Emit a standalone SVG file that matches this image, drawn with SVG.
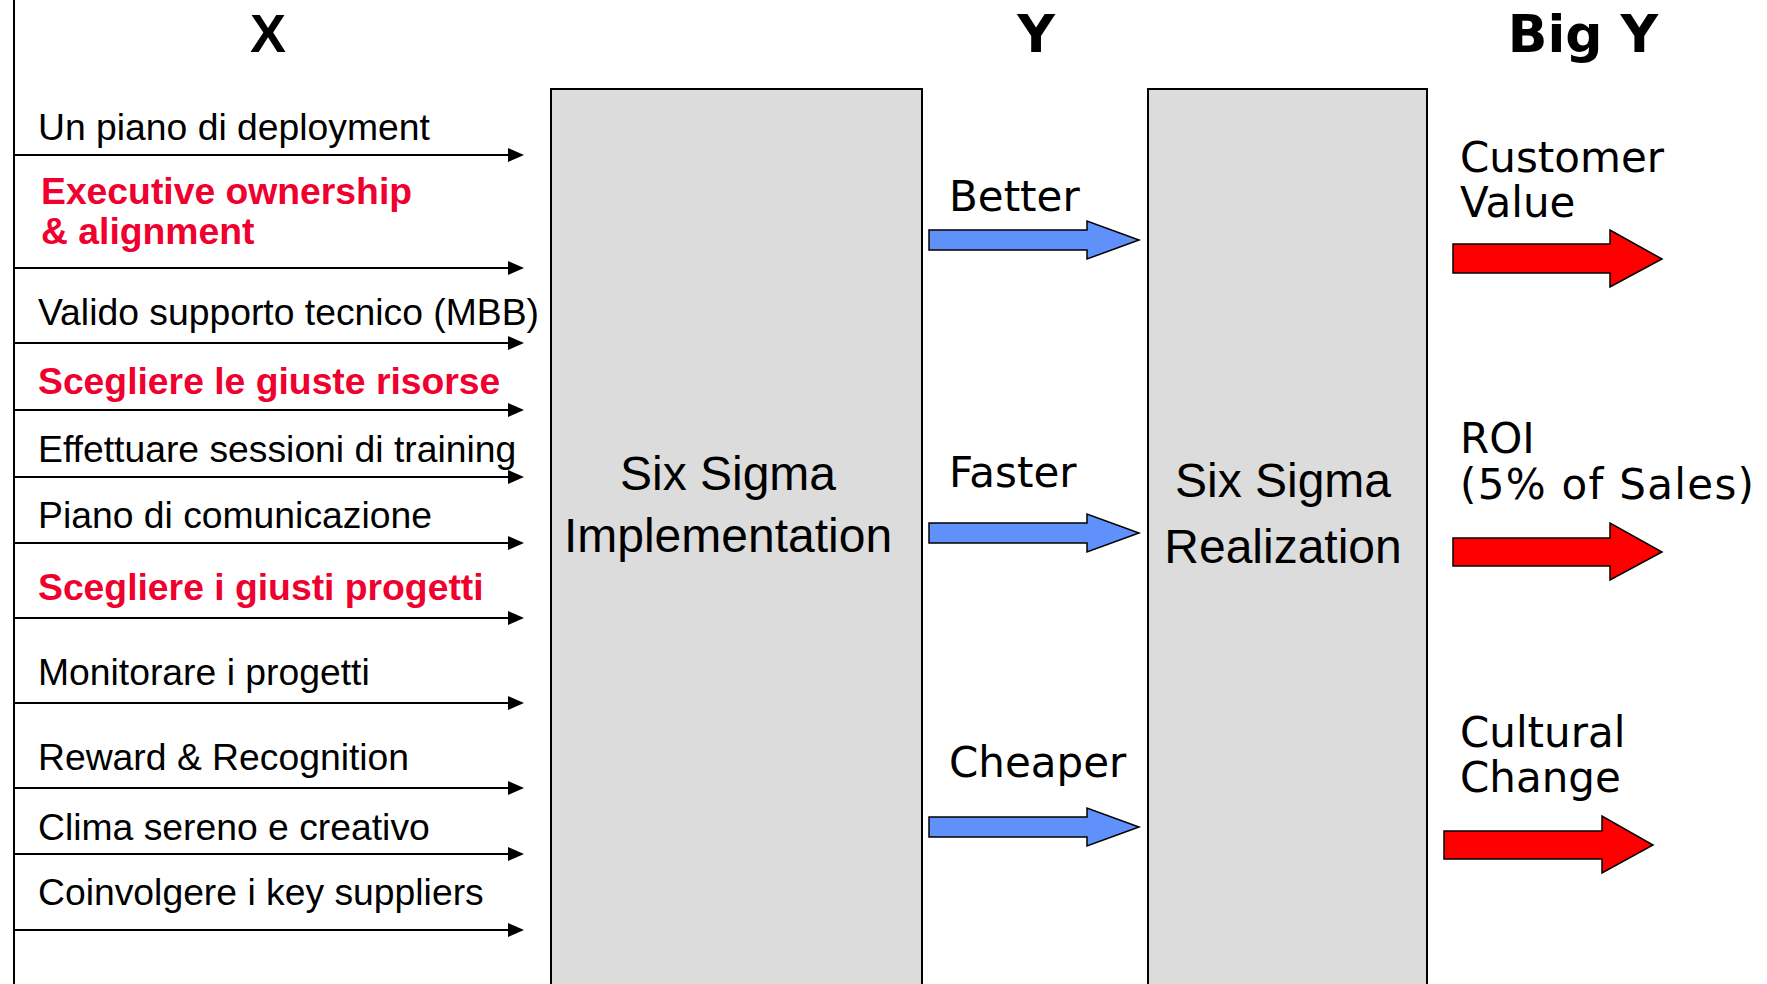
<svg xmlns="http://www.w3.org/2000/svg" width="1767" height="984" viewBox="0 0 1767 984">
<defs>
<marker id="ah" markerUnits="userSpaceOnUse" markerWidth="16" markerHeight="14" refX="0" refY="7" orient="auto" overflow="visible">
<path d="M0,0 L16,7 L0,14 Z" fill="#000"/>
</marker>
<style>
.lbl{font-family:"Liberation Sans",Arial,sans-serif;font-size:37.3px;fill:#000}
.red{font-family:"Liberation Sans",Arial,sans-serif;font-size:37.3px;font-weight:bold;fill:#f0002e}
.box{fill:#dcdcdc;stroke:#000;stroke-width:2}
.boxt{font-family:"Liberation Sans",Arial,sans-serif;font-size:48px;fill:#000;text-anchor:middle}
.dv{font-family:"DejaVu Sans",Verdana,sans-serif;font-size:42px;fill:#000}
.dvr{font-family:"DejaVu Sans",Verdana,sans-serif;font-size:42px;fill:#000}
.conn line{stroke:#000;stroke-width:2;marker-end:url(#ah)}
.blue{fill:#6090fa;stroke:#000;stroke-width:1.5}
.redarr{fill:#ff0000;stroke:#000;stroke-width:1.5}
</style>
</defs>
<rect width="1767" height="984" fill="#fff"/>
<line x1="14" y1="0" x2="14" y2="984" stroke="#000" stroke-width="2"/>
<g id="titles">
<text x="268" y="52" font-family="Liberation Sans, Arial, sans-serif" font-weight="bold" font-size="54" text-anchor="middle">X</text>
<text x="1036" y="52" font-family="DejaVu Sans, Verdana, sans-serif" font-weight="bold" font-size="52" text-anchor="middle">Y</text>
<text x="1583" y="52" font-family="DejaVu Sans, Verdana, sans-serif" font-weight="bold" font-size="52" text-anchor="middle">Big Y</text>
</g>
<g id="inputs">
<text class="lbl" x="38" y="140">Un piano di deployment</text>
<text class="red" x="41" y="204">Executive ownership</text>
<text class="red" x="41" y="244">&amp; alignment</text>
<text class="lbl" x="38" y="325">Valido supporto tecnico (MBB)</text>
<text class="red" x="38" y="394">Scegliere le giuste risorse</text>
<text class="lbl" x="38" y="462">Effettuare sessioni di training</text>
<text class="lbl" x="38" y="528">Piano di comunicazione</text>
<text class="red" x="38" y="600">Scegliere i giusti progetti</text>
<text class="lbl" x="38" y="685">Monitorare i progetti</text>
<text class="lbl" x="38" y="770">Reward &amp; Recognition</text>
<text class="lbl" x="38" y="840">Clima sereno e creativo</text>
<text class="lbl" x="38" y="905">Coinvolgere i key suppliers</text>
</g>
<g id="implementation">
<rect class="box" x="551" y="89" width="371" height="910"/>
<text class="boxt" x="728" y="490">Six Sigma</text>
<text class="boxt" x="728" y="552">Implementation</text>
</g>
<g id="realization">
<rect class="box" x="1148" y="89" width="279" height="910"/>
<text class="boxt" x="1283" y="497">Six Sigma</text>
<text class="boxt" x="1283" y="563">Realization</text>
</g>
<g id="y-labels">
<text class="dv" x="949" y="211">Better</text>
<text class="dv" x="949" y="487">Faster</text>
<text class="dv" x="949" y="777">Cheaper</text>
</g>
<g id="bigy-labels">
<text class="dvr" x="1460" y="172">Customer</text>
<text class="dvr" x="1460" y="217">Value</text>
<text class="dvr" x="1460" y="453">ROI</text>
<text class="dvr" x="1460" y="499" textLength="294" lengthAdjust="spacing">(5% of Sales)</text>
<text class="dvr" x="1460" y="747">Cultural</text>
<text class="dvr" x="1460" y="792">Change</text>
</g>
<g id="connectors" class="conn">
<line x1="15" y1="155" x2="508" y2="155"/>
<line x1="15" y1="268" x2="508" y2="268"/>
<line x1="15" y1="343" x2="508" y2="343"/>
<line x1="15" y1="410" x2="508" y2="410"/>
<line x1="15" y1="477" x2="508" y2="477"/>
<line x1="15" y1="543" x2="508" y2="543"/>
<line x1="15" y1="618" x2="508" y2="618"/>
<line x1="15" y1="703" x2="508" y2="703"/>
<line x1="15" y1="788" x2="508" y2="788"/>
<line x1="15" y1="854" x2="508" y2="854"/>
<line x1="15" y1="930" x2="508" y2="930"/>
</g>
<g id="block-arrows">
<polygon class="blue" points="929,230 1087,230 1087,221 1139,240 1087,259 1087,250 929,250"/>
<polygon class="blue" points="929,523 1087,523 1087,514 1139,533 1087,552 1087,543 929,543"/>
<polygon class="blue" points="929,817 1087,817 1087,808 1139,827 1087,846 1087,837 929,837"/>
<polygon class="redarr" points="1453,244 1610,244 1610,230 1662,259 1610,287 1610,273 1453,273"/>
<polygon class="redarr" points="1453,538 1610,538 1610,523 1662,552 1610,580 1610,566 1453,566"/>
<polygon class="redarr" points="1444,831 1602,831 1602,816 1653,845 1602,873 1602,859 1444,859"/>
</g>
</svg>
